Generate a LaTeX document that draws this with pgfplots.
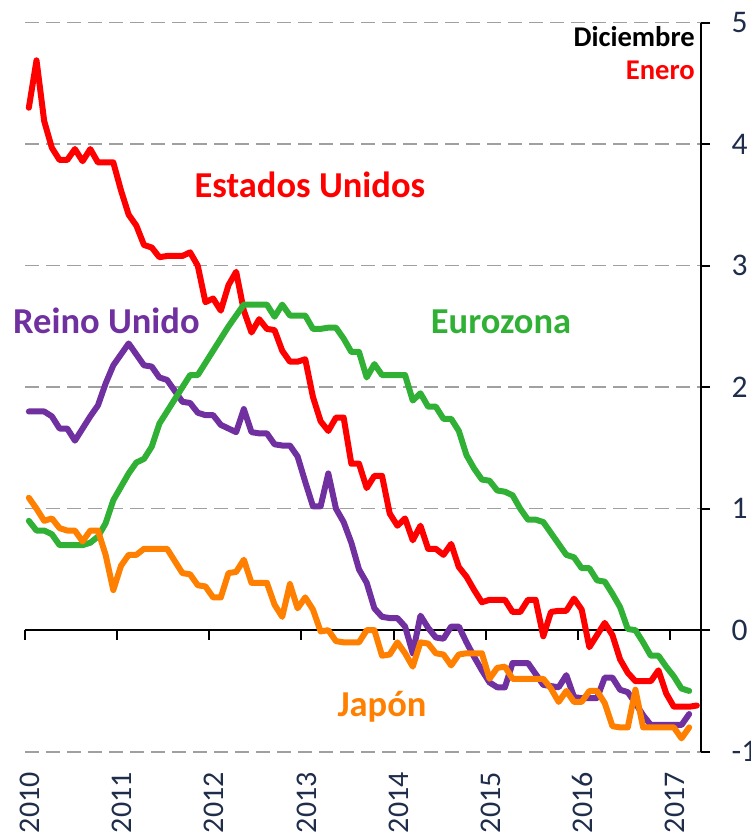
\documentclass[border=0pt]{standalone}
\usepackage{fontspec}
\setmainfont{Carlito}
\usepackage{pgfplots}
\pgfplotsset{compat=1.18}
\definecolor{cRed}{RGB}{255,0,0}
\definecolor{cGreen}{RGB}{48,176,52}
\definecolor{cPurple}{RGB}{112,48,160}
\definecolor{cOrange}{RGB}{255,128,0}
\definecolor{cNavy}{RGB}{31,45,75}
\definecolor{cGrid}{RGB}{160,160,160}
\pgfplotsset{ser/.style={line width=6pt, line join=round, line cap=round, mark=none}}
\begin{document}
\begin{tikzpicture}
\begin{axis}[
  at={(0pt,0pt)}, anchor=south west,
  scale only axis, width=675.7pt, height=729pt,
  xmin=0, xmax=88, ymin=-1, ymax=5,
  axis x line=middle, axis y line=right,
  hide obscured x ticks=false, hide obscured y ticks=false,
  axis line style={-, line width=2pt, black},
  xtick={0,12,...,84},
  xticklabels={2010,2011,2012,2013,2014,2015,2016,2017},
  ytick={-1,0,...,5},
  yticklabels={-1,0,1,2,3,4,5},
  tick align=outside,
  major tick length=9.5pt,
  tick style={line width=2pt, black},
  ymajorgrids,
  major grid style={cGrid, line width=1.6pt, dash pattern=on 14pt off 7pt},
  yticklabel style={font=\fontsize{31.5}{31.5}\selectfont, text=cNavy, anchor=west, xshift=18pt},
  xticklabel style={font=\fontsize{30}{30}\selectfont, text=cNavy, rotate=90, anchor=east, xshift=-129pt, yshift=-5pt},
  clip=false,
]
% Reino Unido
\addplot[ser, cPurple] coordinates {
(0.5,1.80)(1.5,1.80)(2.5,1.80)(3.5,1.76)(4.5,1.66)(5.5,1.66)(6.5,1.56)(7.5,1.66)(8.5,1.76)(9.5,1.85)
(10.5,2.03)(11.5,2.18)(12.5,2.27)(13.5,2.36)(14.5,2.27)(15.5,2.18)(16.5,2.17)(17.5,2.08)(18.5,2.06)(19.5,1.97)
(20.5,1.88)(21.5,1.87)(22.5,1.79)(23.5,1.77)(24.5,1.77)(25.5,1.69)(26.5,1.66)(27.5,1.63)(28.5,1.82)(29.5,1.63)
(30.5,1.62)(31.5,1.62)(32.5,1.53)(33.5,1.52)(34.5,1.52)(35.5,1.43)(36.5,1.22)(37.5,1.02)(38.5,1.02)(39.5,1.29)
(40.5,1.00)(41.5,0.89)(42.5,0.72)(43.5,0.50)(44.5,0.39)(45.5,0.18)(46.5,0.11)(47.5,0.10)(48.5,0.10)(49.5,0.03)
(50.5,-0.19)(51.5,0.12)(52.5,0.02)(53.5,-0.06)(54.5,-0.07)(55.5,0.03)(56.5,0.03)(57.5,-0.10)(58.5,-0.22)(59.5,-0.33)
(60.5,-0.43)(61.5,-0.47)(62.5,-0.47)(63.5,-0.27)(64.5,-0.27)(65.5,-0.27)(66.5,-0.36)(67.5,-0.45)(68.5,-0.46)(69.5,-0.47)
(70.5,-0.37)(71.5,-0.55)(72.5,-0.56)(73.5,-0.56)(74.5,-0.56)(75.5,-0.39)(76.5,-0.39)(77.5,-0.49)(78.5,-0.51)(79.5,-0.60)
(80.5,-0.70)(81.5,-0.78)(82.5,-0.78)(83.5,-0.78)(84.5,-0.78)(85.5,-0.78)(86.5,-0.69)
};
% Estados Unidos
\addplot[ser, cRed] coordinates {
(0.5,4.30)(1.5,4.69)(2.5,4.19)(3.5,3.97)(4.5,3.87)(5.5,3.87)(6.5,3.96)(7.5,3.86)(8.5,3.96)(9.5,3.85)
(10.5,3.85)(11.5,3.85)(12.5,3.62)(13.5,3.42)(14.5,3.33)(15.5,3.17)(16.5,3.15)(17.5,3.07)(18.5,3.08)(19.5,3.08)
(20.5,3.08)(21.5,3.11)(22.5,3.00)(23.5,2.70)(24.5,2.73)(25.5,2.63)(26.5,2.84)(27.5,2.95)(28.5,2.63)(29.5,2.45)
(30.5,2.56)(31.5,2.48)(32.5,2.47)(33.5,2.30)(34.5,2.21)(35.5,2.21)(36.5,2.23)(37.5,1.92)(38.5,1.72)(39.5,1.64)
(40.5,1.75)(41.5,1.75)(42.5,1.37)(43.5,1.37)(44.5,1.17)(45.5,1.27)(46.5,1.27)(47.5,0.96)(48.5,0.86)(49.5,0.92)
(50.5,0.74)(51.5,0.86)(52.5,0.67)(53.5,0.67)(54.5,0.62)(55.5,0.71)(56.5,0.52)(57.5,0.44)(58.5,0.33)(59.5,0.23)
(60.5,0.25)(61.5,0.25)(62.5,0.25)(63.5,0.15)(64.5,0.15)(65.5,0.25)(66.5,0.25)(67.5,-0.05)(68.5,0.15)(69.5,0.16)
(70.5,0.16)(71.5,0.26)(72.5,0.17)(73.5,-0.14)(74.5,-0.04)(75.5,0.06)(76.5,-0.04)(77.5,-0.24)(78.5,-0.35)(79.5,-0.42)
(80.5,-0.42)(81.5,-0.42)(82.5,-0.33)(83.5,-0.52)(84.5,-0.63)(85.5,-0.63)(86.5,-0.63)(87.5,-0.62)
};
% Eurozona
\addplot[ser, cGreen] coordinates {
(0.5,0.90)(1.5,0.82)(2.5,0.82)(3.5,0.79)(4.5,0.70)(5.5,0.70)(6.5,0.70)(7.5,0.70)(8.5,0.72)(9.5,0.77)
(10.5,0.88)(11.5,1.07)(12.5,1.18)(13.5,1.29)(14.5,1.38)(15.5,1.41)(16.5,1.51)(17.5,1.70)(18.5,1.80)(19.5,1.90)
(20.5,2.00)(21.5,2.10)(22.5,2.10)(23.5,2.20)(24.5,2.30)(25.5,2.40)(26.5,2.50)(27.5,2.59)(28.5,2.68)(29.5,2.68)
(30.5,2.68)(31.5,2.68)(32.5,2.58)(33.5,2.68)(34.5,2.59)(35.5,2.59)(36.5,2.59)(37.5,2.48)(38.5,2.48)(39.5,2.49)
(40.5,2.49)(41.5,2.40)(42.5,2.29)(43.5,2.29)(44.5,2.08)(45.5,2.19)(46.5,2.10)(47.5,2.10)(48.5,2.10)(49.5,2.10)
(50.5,1.89)(51.5,1.95)(52.5,1.84)(53.5,1.84)(54.5,1.74)(55.5,1.74)(56.5,1.64)(57.5,1.44)(58.5,1.33)(59.5,1.24)
(60.5,1.23)(61.5,1.15)(62.5,1.14)(63.5,1.11)(64.5,1.00)(65.5,0.91)(66.5,0.91)(67.5,0.89)(68.5,0.80)(69.5,0.71)
(70.5,0.62)(71.5,0.60)(72.5,0.51)(73.5,0.51)(74.5,0.41)(75.5,0.40)(76.5,0.30)(77.5,0.19)(78.5,0.01)(79.5,0.00)
(80.5,-0.10)(81.5,-0.21)(82.5,-0.21)(83.5,-0.30)(84.5,-0.38)(85.5,-0.48)(86.5,-0.50)
};
% Japon
\addplot[ser, cOrange] coordinates {
(0.5,1.09)(1.5,1.00)(2.5,0.90)(3.5,0.92)(4.5,0.84)(5.5,0.82)(6.5,0.82)(7.5,0.73)(8.5,0.82)(9.5,0.82)
(10.5,0.62)(11.5,0.33)(12.5,0.53)(13.5,0.62)(14.5,0.62)(15.5,0.67)(16.5,0.67)(17.5,0.67)(18.5,0.67)(19.5,0.57)
(20.5,0.47)(21.5,0.46)(22.5,0.37)(23.5,0.36)(24.5,0.27)(25.5,0.27)(26.5,0.47)(27.5,0.48)(28.5,0.58)(29.5,0.39)
(30.5,0.39)(31.5,0.39)(32.5,0.21)(33.5,0.11)(34.5,0.38)(35.5,0.18)(36.5,0.27)(37.5,0.17)(38.5,-0.01)(39.5,0.00)
(40.5,-0.09)(41.5,-0.10)(42.5,-0.10)(43.5,-0.10)(44.5,0.00)(45.5,0.00)(46.5,-0.21)(47.5,-0.20)(48.5,-0.10)(49.5,-0.19)
(50.5,-0.30)(51.5,-0.10)(52.5,-0.11)(53.5,-0.19)(54.5,-0.20)(55.5,-0.29)(56.5,-0.20)(57.5,-0.19)(58.5,-0.19)(59.5,-0.19)
(60.5,-0.40)(61.5,-0.31)(62.5,-0.30)(63.5,-0.40)(64.5,-0.40)(65.5,-0.40)(66.5,-0.40)(67.5,-0.40)(68.5,-0.48)(69.5,-0.59)
(70.5,-0.50)(71.5,-0.59)(72.5,-0.59)(73.5,-0.50)(74.5,-0.50)(75.5,-0.60)(76.5,-0.79)(77.5,-0.80)(78.5,-0.80)(79.5,-0.49)
(80.5,-0.80)(81.5,-0.80)(82.5,-0.80)(83.5,-0.80)(84.5,-0.80)(85.5,-0.89)(86.5,-0.80)
};
\node[anchor=base, inner sep=0pt, text=cRed, font=\bfseries\fontsize{36.5}{36.5}\selectfont] at (axis cs:37.1,3.56) {Estados Unidos};
\node[anchor=base, inner sep=0pt, text=cPurple, font=\bfseries\fontsize{36.5}{36.5}\selectfont] at (axis cs:10.6,2.44) {Reino Unido};
\node[anchor=base, inner sep=0pt, text=cGreen, font=\bfseries\fontsize{36.5}{36.5}\selectfont] at (axis cs:62.0,2.44) {Eurozona};
\node[anchor=base, inner sep=0pt, text=cOrange, font=\bfseries\fontsize{36.5}{36.5}\selectfont] at (axis cs:46.5,-0.71) {Japón};
\node[anchor=base east, inner sep=0pt, text=black, font=\bfseries\fontsize{28.6}{28.6}\selectfont] at (axis cs:87.26,4.80) {Diciembre};
\node[anchor=base east, inner sep=0pt, text=cRed, font=\bfseries\fontsize{28.6}{28.6}\selectfont] at (axis cs:87.26,4.53) {Enero};
\end{axis}
\pgfresetboundingbox
\useasboundingbox (-25pt,-83.3pt) rectangle (726pt,751.7pt);
\end{tikzpicture}
\end{document}
